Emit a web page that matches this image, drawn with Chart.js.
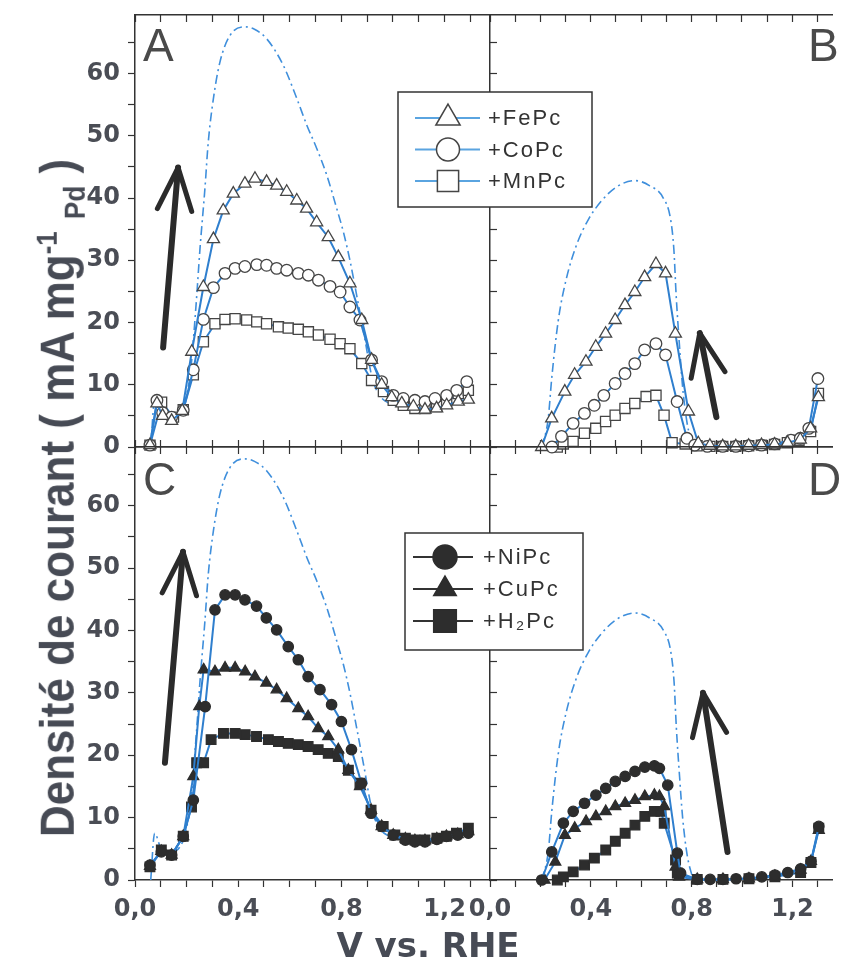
<!DOCTYPE html>
<html>
<head>
<meta charset="utf-8">
<script src="https://cdn.jsdelivr.net/npm/chart.js@4.4.1/dist/chart.umd.min.js"></script>
<style>
  body { margin: 0; background: #fff; }
  #wrap { position: relative; width: 841px; height: 962px; overflow: hidden; }
  canvas { position: absolute; left: 0; top: 0; }
  .tag { position: absolute; font: 46px "Liberation Sans", Arial, sans-serif; color: #4a4a4a; line-height: 1; }
  .title { position: absolute; font: bold 34px "DejaVu Sans", sans-serif; color: #474b55; white-space: nowrap; line-height: 1; }
  #ytitle { font: bold 44px "Liberation Sans", Arial, sans-serif; }
  #ytitle sup, #ytitle sub { font-size: 26px; }
</style>
</head>
<body>
<div id="wrap">
  <canvas id="panelB" width="841" height="962"></canvas>
  <canvas id="panelD" width="841" height="962"></canvas>
  <canvas id="panelA" width="841" height="962"></canvas>
  <canvas id="panelC" width="841" height="962"></canvas>
  <div class="tag" style="left:143px;top:22px">A</div>
  <div class="tag" style="left:808px;top:22px">B</div>
  <div class="tag" style="left:143px;top:456px">C</div>
  <div class="tag" style="left:808px;top:456px">D</div>
  <div class="title" id="ytitle" style="left:61px;top:498px;transform:translate(-50%,-50%) rotate(-90deg) scaleY(1.1)">Densité de courant ( mA mg<sup>-1</sup> <sub>Pd</sub> )</div>
  <div class="title" style="left:428px;top:945px;transform:translate(-50%,-50%)">V vs. RHE</div>
</div>
<script>
// axis ranges
const LEFT_MAX = 1.376;
const RIGHT_MAX = 1.36;
const Y_MAX = 69.4;

const topNames = ['+FePc', '+CoPc', '+MnPc'];
const bottomNames = ['+NiPc', '+CuPc', '+H₂Pc'];

// reference curves (dash-dot)
const refLeftV = [0.061, 0.076, 0.102, 0.142, 0.183, 0.203, 0.215, 0.237, 0.252, 0.271, 0.284, 0.304, 0.329, 0.368, 0.426, 0.463, 0.51, 0.575, 0.627, 0.666, 0.704, 0.743, 0.782, 0.808, 0.834, 0.86, 0.886, 0.92, 0.95, 0.986, 1.037, 1.098, 1.159, 1.22, 1.292];
const refLeftJ = [0, 7.5, 5, 4.5, 6, 9, 12, 23, 31.9, 41.5, 49, 56, 61.8, 66.1, 67.5, 67.1, 65.6, 61.3, 56, 51.7, 48, 43.7, 38.3, 34.5, 29.8, 24.2, 18.5, 11, 8.2, 7, 6.5, 6.2, 6.5, 7.2, 8];
const refRightV = [0.205, 0.231, 0.245, 0.271, 0.303, 0.344, 0.39, 0.442, 0.503, 0.575, 0.633, 0.688, 0.717, 0.73, 0.739, 0.752, 0.764, 0.782, 0.806];
const refRightJ = [0, 4.5, 11, 20.3, 27, 32.5, 36.5, 39.5, 41.8, 42.8, 42, 40, 36.6, 31.8, 24.5, 16.5, 10, 4, 0];

// panel A
const feAV = [0.058, 0.085, 0.107, 0.142, 0.183, 0.22, 0.265, 0.304, 0.342, 0.381, 0.426, 0.465, 0.51, 0.549, 0.588, 0.627, 0.665, 0.704, 0.749, 0.788, 0.833, 0.879, 0.917, 0.956, 0.995, 1.034, 1.079, 1.124, 1.169, 1.208, 1.253, 1.292];
const feAJ = [0.3, 7.0, 5.0, 4.2, 5.8, 15.3, 25.7, 33.4, 38.0, 40.7, 42.3, 43.1, 42.6, 42.0, 41.0, 39.6, 38.3, 36.1, 33.7, 30.5, 26.3, 20.4, 14.0, 10.0, 8.0, 7.0, 6.5, 6.0, 6.2, 6.7, 7.3, 7.6];
const coAV = [0.058, 0.085, 0.107, 0.142, 0.187, 0.226, 0.265, 0.304, 0.349, 0.388, 0.426, 0.472, 0.51, 0.549, 0.588, 0.633, 0.672, 0.711, 0.756, 0.795, 0.833, 0.872, 0.917, 0.956, 1.001, 1.04, 1.085, 1.124, 1.163, 1.208, 1.247, 1.286];
const coAJ = [0.3, 7.5, 5.5, 4.8, 5.9, 12.4, 20.5, 25.6, 27.9, 28.7, 29.0, 29.3, 29.2, 28.7, 28.4, 27.9, 27.6, 26.8, 25.8, 24.9, 22.5, 20.4, 14.0, 10.5, 8.3, 7.8, 7.5, 7.3, 7.8, 8.3, 9.1, 10.5];
const mnAV = [0.058, 0.103, 0.149, 0.187, 0.226, 0.265, 0.31, 0.349, 0.388, 0.433, 0.472, 0.51, 0.556, 0.594, 0.633, 0.672, 0.711, 0.756, 0.795, 0.833, 0.879, 0.917, 0.963, 1.001, 1.04, 1.085, 1.124, 1.169, 1.208, 1.253, 1.292];
const mnAJ = [0.3, 7.2, 4.8, 6.0, 11.6, 16.9, 19.8, 20.5, 20.6, 20.4, 20.1, 19.8, 19.3, 19.1, 18.9, 18.5, 18.0, 17.3, 16.6, 15.8, 13.4, 10.7, 8.9, 7.5, 6.7, 6.2, 6.2, 6.5, 7.3, 8.6, 9.1];

// panel B
const feBV = [0.205, 0.245, 0.297, 0.336, 0.381, 0.42, 0.459, 0.497, 0.536, 0.575, 0.614, 0.659, 0.697, 0.736, 0.788, 0.827, 0.873, 0.924, 0.976, 1.027, 1.078, 1.13, 1.181, 1.232, 1.273, 1.304];
const feBJ = [0, 4.6, 8.9, 11.6, 13.7, 16.1, 18.2, 20.4, 22.8, 24.9, 27.3, 29.4, 27.9, 18.2, 5.7, 0.6, 0.2, 0.1, 0.1, 0.2, 0.3, 0.4, 0.7, 1.2, 3.0, 8.0];
const coBV = [0.246, 0.284, 0.33, 0.375, 0.414, 0.452, 0.497, 0.536, 0.575, 0.614, 0.659, 0.697, 0.743, 0.782, 0.813, 0.863, 0.924, 0.976, 1.027, 1.078, 1.13, 1.195, 1.232, 1.266, 1.302];
const coBJ = [0, 1.7, 3.8, 5.4, 6.7, 8.3, 10.2, 11.8, 13.4, 15.6, 16.6, 14.8, 7.3, 1.4, 0.3, 0.1, 0.1, 0.1, 0.2, 0.3, 0.5, 1.1, 1.4, 3.0, 11.0];
const mnBV = [0.267, 0.291, 0.33, 0.375, 0.42, 0.459, 0.497, 0.536, 0.575, 0.62, 0.659, 0.691, 0.723, 0.775, 0.822, 0.873, 0.924, 0.976, 1.027, 1.078, 1.13, 1.181, 1.227, 1.273, 1.304];
const mnBJ = [0, 0.5, 0.9, 2.2, 3.0, 4.1, 5.1, 6.2, 7.0, 8.1, 8.3, 5.1, 0.7, 0.5, 0.2, 0.1, 0.1, 0.1, 0.2, 0.3, 0.4, 0.7, 1.1, 2.5, 8.6];

// panel C
const niCV = [0.058, 0.102, 0.142, 0.187, 0.226, 0.272, 0.31, 0.349, 0.388, 0.426, 0.471, 0.509, 0.549, 0.594, 0.633, 0.671, 0.717, 0.762, 0.8, 0.839, 0.878, 0.915, 0.956, 1.001, 1.048, 1.085, 1.124, 1.17, 1.207, 1.251, 1.292];
const niCJ = [2.4, 4.5, 4.0, 7.0, 12.8, 27.8, 43.3, 45.7, 45.7, 44.9, 43.9, 42.0, 40.1, 37.4, 35.3, 32.6, 30.5, 28.1, 25.4, 20.9, 15.5, 10.7, 8.6, 7.2, 6.4, 6.1, 6.1, 6.5, 7.0, 7.2, 7.5];
const cuCV = [0.058, 0.102, 0.142, 0.187, 0.226, 0.249, 0.266, 0.31, 0.349, 0.388, 0.427, 0.465, 0.509, 0.549, 0.588, 0.633, 0.671, 0.71, 0.749, 0.788, 0.827, 0.872, 0.915, 0.956, 1.001, 1.048, 1.085, 1.124, 1.17, 1.207, 1.251, 1.292];
const cuCJ = [2.2, 4.6, 4.0, 7.0, 16.6, 27.8, 33.7, 33.4, 34.0, 34.0, 33.4, 32.6, 31.6, 30.5, 29.1, 27.5, 26.2, 24.3, 23.0, 20.9, 17.6, 15.0, 11.2, 8.6, 7.2, 6.6, 6.3, 6.3, 6.6, 7.0, 7.3, 7.8];
const h2CV = [0.058, 0.102, 0.142, 0.187, 0.219, 0.239, 0.266, 0.295, 0.343, 0.388, 0.427, 0.471, 0.517, 0.556, 0.594, 0.633, 0.671, 0.71, 0.749, 0.788, 0.827, 0.872, 0.915, 0.962, 1.007, 1.048, 1.085, 1.124, 1.17, 1.207, 1.246, 1.292];
const h2CJ = [2.1, 4.8, 4.0, 7.0, 11.7, 18.8, 18.8, 22.5, 23.5, 23.5, 23.3, 23.0, 22.5, 22.2, 21.9, 21.7, 21.4, 20.9, 20.3, 19.8, 17.6, 15.5, 11.2, 8.6, 7.2, 6.7, 6.4, 6.4, 6.7, 7.0, 7.5, 8.3];

// panel D
const niDV = [0.205, 0.245, 0.291, 0.33, 0.375, 0.42, 0.459, 0.497, 0.536, 0.575, 0.614, 0.652, 0.672, 0.705, 0.743, 0.756, 0.822, 0.873, 0.924, 0.976, 1.027, 1.078, 1.13, 1.181, 1.232, 1.273, 1.304];
const niDJ = [0, 4.5, 9.1, 11.0, 12.3, 13.6, 14.7, 15.8, 16.6, 17.4, 18.1, 18.3, 17.9, 15.2, 4.3, 1.1, 0.1, 0.1, 0.1, 0.2, 0.3, 0.5, 0.8, 1.2, 1.8, 3.0, 8.6];
const cuDV = [0.216, 0.259, 0.297, 0.336, 0.381, 0.42, 0.459, 0.497, 0.536, 0.575, 0.614, 0.652, 0.672, 0.691, 0.736, 0.75, 0.822, 0.924, 1.027, 1.13, 1.232, 1.273, 1.304];
const cuDJ = [0, 2.9, 7.2, 8.3, 9.4, 10.2, 11.0, 11.8, 12.3, 12.8, 13.4, 13.6, 13.4, 11.8, 2.1, 0.5, 0.1, 0.1, 0.2, 0.6, 1.6, 3.0, 8.0];
const h2DV = [0.267, 0.291, 0.33, 0.375, 0.414, 0.459, 0.497, 0.536, 0.575, 0.614, 0.652, 0.678, 0.691, 0.736, 0.743, 0.822, 0.924, 1.027, 1.13, 1.232, 1.273, 1.304];
const h2DJ = [0, 0.5, 1.3, 2.4, 3.5, 4.8, 6.2, 7.5, 8.8, 10.2, 11.0, 11.0, 9.1, 3.2, 1.1, 0.1, 0.1, 0.2, 0.5, 1.2, 2.8, 8.3];

// arrows: [tail, head] in (V, J)
const arrowA = [[0.109, 16], [0.167, 44.9]];
const arrowB = [[0.899, 4.8], [0.833, 18.3]];
const arrowC = [[0.116, 18.8], [0.186, 52.6]];
const arrowD = [[0.942, 4.5], [0.845, 30]];

const BLUE = '#2f7fce';
const tickFont = { family: 'DejaVu Sans', size: 24, weight: 'bold' };

function pts(xs, ys) {
  return xs.map((x, i) => ({ x, y: ys[i] }));
}

function markerSet(label, xs, ys, style, radius, filled) {
  return {
    label, data: pts(xs, ys), inLegend: true,
    borderColor: BLUE, borderWidth: 2,
    pointStyle: style, pointRadius: radius,
    pointBackgroundColor: filled ? '#2d2d2d' : '#fff',
    pointBorderColor: filled ? '#2d2d2d' : '#454545',
    pointBorderWidth: 1.3, clip: false
  };
}

function refSet(xs, ys) {
  return {
    label: 'Pd', data: pts(xs, ys), inLegend: false,
    borderColor: '#3f8fdc', borderWidth: 1.6, borderDash: [9, 4, 2, 4],
    pointRadius: 0, cubicInterpolationMode: 'monotone', clip: false
  };
}

const overlay = {
  id: 'overlay',
  afterDatasetsDraw(chart, args, opts) {
    if (!opts.arrow) return;
    const ctx = chart.ctx, sx = chart.scales.x, sy = chart.scales.y;
    const [t, h] = opts.arrow;
    const x0 = sx.getPixelForValue(t[0]), y0 = sy.getPixelForValue(t[1]);
    const x1 = sx.getPixelForValue(h[0]), y1 = sy.getPixelForValue(h[1]);
    const back = Math.atan2(y0 - y1, x0 - x1);
    ctx.save();
    ctx.strokeStyle = '#2b2b2b';
    ctx.lineCap = 'round';
    ctx.lineWidth = 6;
    ctx.beginPath(); ctx.moveTo(x0, y0); ctx.lineTo(x1, y1); ctx.stroke();
    ctx.lineWidth = 5;
    [-1, 1].forEach(s => {
      const b = back + s * 22 * Math.PI / 180;
      ctx.beginPath();
      ctx.moveTo(x1, y1);
      ctx.lineTo(x1 + 46 * Math.cos(b), y1 + 46 * Math.sin(b));
      ctx.stroke();
    });
    ctx.restore();
  },
  afterDraw(chart, args, opts) {
    const lg = opts.legend;
    if (!lg) return;
    const ctx = chart.ctx;
    ctx.save();
    ctx.fillStyle = '#fff';
    ctx.fillRect(lg.x, lg.y, lg.w, lg.h);
    ctx.strokeStyle = '#333';
    ctx.lineWidth = 1.5;
    ctx.strokeRect(lg.x, lg.y, lg.w, lg.h);
    chart.data.datasets.filter(d => d.inLegend).forEach((d, i) => {
      const cy = lg.y + lg.first + i * lg.step;
      ctx.strokeStyle = lg.lineColor;
      ctx.lineWidth = 2;
      ctx.beginPath();
      ctx.moveTo(lg.x + lg.line[0], cy);
      ctx.lineTo(lg.x + lg.line[1], cy);
      ctx.stroke();
      ctx.fillStyle = d.pointBackgroundColor;
      ctx.strokeStyle = d.pointBorderColor;
      ctx.lineWidth = 1.5;
      Chart.helpers.drawPoint(ctx, { pointStyle: d.pointStyle, radius: lg.radius[d.pointStyle], borderWidth: 1.5, rotation: 0 }, lg.x + lg.marker, cy);
      ctx.fillStyle = '#333';
      ctx.font = '22px "Liberation Sans", Arial, sans-serif';
      ctx.letterSpacing = '2px';
      ctx.textBaseline = 'middle';
      ctx.fillText(d.label, lg.x + lg.text, cy + 1);
    });
    ctx.restore();
  }
};

function xLabel(v) {
  const k = v / 0.4;
  return Math.abs(k - Math.round(k)) < 1e-6 ? v.toFixed(1).replace('.', ',') : '';
}

function makePanel(id, p) {
  const border = { color: '#333', width: 1.5 };
  const grid = len => ({ drawOnChartArea: false, tickLength: len, tickColor: '#333', tickWidth: 1.2 });
  const noPad = s => { s.paddingTop = 0; s.paddingBottom = 0; s.paddingLeft = 0; s.paddingRight = 0; };
  new Chart(document.getElementById(id), {
    type: 'line',
    data: { datasets: p.datasets },
    options: {
      responsive: false, animation: false, devicePixelRatio: 1, events: [],
      layout: { padding: { left: 0, top: p.top, right: 841 - p.right, bottom: p.showX ? 0 : 962 - p.bottom } },
      scales: {
        x: {
          type: 'linear', position: 'bottom', min: 0, max: p.xMax,
          afterFit: s => { noPad(s); s.height = p.showX ? 962 - p.bottom : 0; },
          ticks: { display: p.showX, stepSize: 0.1, includeBounds: false, autoSkip: false, maxRotation: 0,
                   callback: xLabel, font: tickFont, color: '#4a4d55', padding: 8 },
          grid: grid(p.showX ? 7 : -7), border
        },
        xTop: {
          type: 'linear', position: 'top', min: 0, max: p.xMax,
          afterFit: s => { noPad(s); s.height = 0; },
          ticks: { display: false, stepSize: 0.1, includeBounds: false },
          grid: grid(-7), border
        },
        y: {
          type: 'linear', position: 'left', min: 0, max: Y_MAX,
          afterFit: s => { noPad(s); s.width = p.left; },
          ticks: { display: p.showY, stepSize: 5, includeBounds: false, autoSkip: false,
                   callback: v => (v % 10 === 0 ? String(v) : ''), font: tickFont, color: '#4a4d55', padding: 8 },
          grid: grid(p.showY ? 7 : -7), border
        }
      },
      plugins: {
        legend: { display: false }, tooltip: { enabled: false },
        overlay: { arrow: p.arrow, legend: p.legend }
      }
    },
    plugins: [overlay]
  });
}

makePanel('panelB', {
  left: 490, right: 841, top: 15, bottom: 447, xMax: RIGHT_MAX, showX: false, showY: false, arrow: arrowB,
  datasets: [
    markerSet(topNames[0], feBV, feBJ, 'triangle', 7, false),
    markerSet(topNames[1], coBV, coBJ, 'circle', 5.8, false),
    markerSet(topNames[2], mnBV, mnBJ, 'rect', 7.2, false),
    refSet(refRightV, refRightJ)
  ]
});

makePanel('panelD', {
  left: 490, right: 841, top: 447, bottom: 880, xMax: RIGHT_MAX, showX: true, showY: false, arrow: arrowD,
  datasets: [
    markerSet(bottomNames[0], niDV, niDJ, 'circle', 5.2, true),
    markerSet(bottomNames[1], cuDV, cuDJ, 'triangle', 6.3, true),
    markerSet(bottomNames[2], h2DV, h2DJ, 'rect', 6.8, true),
    refSet(refRightV, refRightJ)
  ]
});

makePanel('panelA', {
  left: 135, right: 490, top: 15, bottom: 447, xMax: LEFT_MAX, showX: false, showY: true, arrow: arrowA,
  legend: { x: 398, y: 92, w: 194, h: 115, first: 26, step: 31.5, line: [17, 82], marker: 50, text: 90,
            lineColor: '#5aa4e0', radius: { triangle: 14, circle: 11.5, rect: 15 } },
  datasets: [
    markerSet(topNames[0], feAV, feAJ, 'triangle', 7, false),
    markerSet(topNames[1], coAV, coAJ, 'circle', 5.8, false),
    markerSet(topNames[2], mnAV, mnAJ, 'rect', 7.2, false),
    refSet(refLeftV, refLeftJ)
  ]
});

makePanel('panelC', {
  left: 135, right: 490, top: 447, bottom: 880, xMax: LEFT_MAX, showX: true, showY: true, arrow: arrowC,
  legend: { x: 405, y: 533, w: 178, h: 117, first: 24, step: 32, line: [8, 68], marker: 40, text: 78,
            lineColor: '#333', radius: { triangle: 13, circle: 12, rect: 16 } },
  datasets: [
    markerSet(bottomNames[0], niCV, niCJ, 'circle', 5.2, true),
    markerSet(bottomNames[1], cuCV, cuCJ, 'triangle', 6.3, true),
    markerSet(bottomNames[2], h2CV, h2CJ, 'rect', 6.8, true),
    refSet(refLeftV, refLeftJ)
  ]
});
</script>
</body>
</html>
